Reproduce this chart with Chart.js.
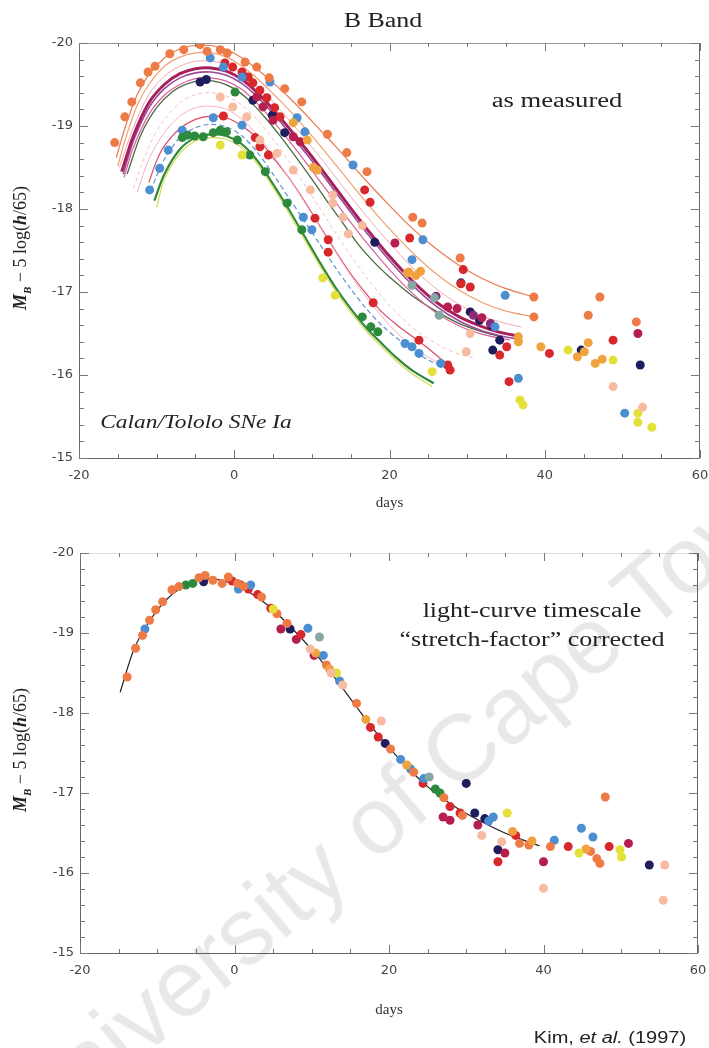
<!DOCTYPE html>
<html>
<head>
<meta charset="utf-8">
<script src="https://cdn.jsdelivr.net/npm/chart.js@4.4.1/dist/chart.umd.min.js"></script>
<style>
html,body{margin:0;padding:0;background:#fff;}
#wrap{position:relative;width:709px;height:1048px;overflow:hidden;background:#fff;}
canvas{position:absolute;left:0;}
#c1{top:0;}
#c2{top:520px;}
.t{position:absolute;white-space:nowrap;color:#222;font-family:"Liberation Serif","Times New Roman",serif;line-height:1;}
.wm{position:absolute;white-space:nowrap;font-family:"Liberation Sans",Arial,sans-serif;font-size:95px;color:rgba(0,0,0,0.09);line-height:1;pointer-events:none;}
</style>
</head>
<body>
<div id="wrap">
<canvas id="c1" width="709" height="520"></canvas>
<canvas id="c2" width="709" height="528"></canvas>

<div class="t" style="left:383px;top:20px;font-size:20px;transform:translate(-50%,-50%) scaleX(1.3);">B Band</div>
<div class="t" style="left:557px;top:100px;font-size:20px;transform:translate(-50%,-50%) scaleX(1.33);">as measured</div>
<div class="t" style="left:196px;top:422px;font-size:18px;font-style:italic;transform:translate(-50%,-50%) scaleX(1.3);">Calan/Tololo SNe Ia</div>
<div class="t" style="left:532px;top:610px;font-size:20px;transform:translate(-50%,-50%) scaleX(1.3);">light-curve timescale</div>
<div class="t" style="left:532px;top:639px;font-size:20px;transform:translate(-50%,-50%) scaleX(1.3);">“stretch-factor” corrected</div>
<div class="t" style="left:610px;top:1038px;font-size:16px;font-family:'Liberation Sans',Arial,sans-serif;transform:translate(-50%,-50%) scaleX(1.25);">Kim, <i>et al.</i> (1997)</div>
<div class="t" style="left:22px;top:248px;font-size:18px;transform:translate(-50%,-50%) rotate(-90deg);"><b><i>M</i></b><sub style="font-size:11px"><b><i>B</i></b></sub> − 5 log(<b><i>h</i></b>/65)</div>
<div class="t" style="left:22px;top:750px;font-size:18px;transform:translate(-50%,-50%) rotate(-90deg);"><b><i>M</i></b><sub style="font-size:11px"><b><i>B</i></b></sub> − 5 log(<b><i>h</i></b>/65)</div>
<div class="wm" style="left:405px;top:795px;transform:translate(-50%,-50%) rotate(-40deg);">University of Cape Town</div>
</div>

<script>
// ---- top panel: measured points [day, mag] ----
const topOrange = [[-15.4,-18.8],[-14.1,-19.11],[-13.2,-19.29],[-12.1,-19.52],[-11.1,-19.65],[-10.2,-19.72],[-8.3,-19.87],[-6.5,-19.92],[-4.4,-19.98],[-3.5,-19.9],[-1.8,-19.92],[-0.9,-19.88],[1.4,-19.77],[2.9,-19.71],[4.5,-19.58],[6.5,-19.45],[8.7,-19.29],[12,-18.9],[14.5,-18.68],[17.1,-18.45],[23,-17.9],[24.2,-17.83],[29.1,-17.41],[38.6,-16.94],[38.6,-16.7],[47.1,-16.94],[45.6,-16.72],[51.8,-16.64]];
const topGold = [[7.6,-19.04],[9.4,-18.83],[10.2,-18.5],[10.7,-18.47],[22.5,-17.24],[23.4,-17.2],[24,-17.25],[22.3,-17.23],[36.6,-16.46],[36.6,-16.4],[39.5,-16.34],[44.2,-16.22],[45.1,-16.28],[45.6,-16.39],[46.5,-16.14],[47.4,-16.19]];
const topRed = [[-1.2,-19.76],[-0.2,-19.71],[1,-19.65],[1.8,-19.59],[2.4,-19.52],[3.3,-19.43],[4.2,-19.34],[5.2,-19.22],[5.9,-19.11],[16.8,-18.23],[17.5,-18.08],[22.6,-17.65],[29.2,-17.1],[29.5,-17.27],[30.4,-17.06],[-1.4,-19.12],[2.7,-18.86],[3.3,-18.75],[4.4,-18.65],[10.4,-17.89],[12.1,-17.63],[12.1,-17.48],[17.9,-16.87],[23.8,-16.42],[27.5,-16.12],[27.8,-16.06],[34.2,-16.24],[35.1,-16.34],[35.4,-15.92],[40.6,-16.26],[48.8,-16.42]];
const topCrimson = [[2.9,-19.35],[3.7,-19.23],[5,-19.07],[7.6,-18.87],[8.5,-18.81],[20.7,-17.59],[27.5,-16.82],[28.7,-16.8],[31.9,-16.69],[52,-16.5]];
const topNavy = [[-4.4,-19.53],[-3.6,-19.56],[2.4,-19.31],[4.9,-19.13],[6.5,-18.92],[18.1,-17.6],[29.2,-17.11],[30.4,-16.76],[31.6,-16.66],[33.1,-16.6],[33.3,-16.3],[34.2,-16.42],[44.7,-16.3],[52.3,-16.12]];
const topBlue = [[-3.1,-19.82],[-1.4,-19.71],[1,-19.59],[4.6,-19.53],[8.1,-19.1],[9.1,-18.93],[15.3,-18.53],[24.3,-17.63],[22.9,-17.39],[34.9,-16.96],[33.6,-16.58],[36.6,-15.96],[50.3,-15.54],[-10.9,-18.23],[-9.6,-18.49],[-8.5,-18.71],[-6.7,-18.95],[-2.7,-19.1],[1,-19.01],[8.9,-17.9],[10,-17.75],[22,-16.38],[22.9,-16.34],[23.8,-16.26],[26.6,-16.14]];
const topGreen = [[-6.7,-18.86],[-6,-18.89],[-5.1,-18.88],[-4,-18.87],[-2.7,-18.92],[-1.8,-18.95],[-1,-18.93],[0.4,-18.83],[2,-18.65],[4,-18.45],[6.8,-18.07],[8.7,-17.75],[16.5,-16.7],[17.6,-16.58],[18.5,-16.52],[0.1,-19.41]];
const topYellow = [[-1.8,-18.77],[1,-18.65],[11.4,-17.17],[13,-16.96],[25.5,-16.04],[36.8,-15.7],[37.2,-15.64],[43,-16.3],[48.8,-16.18],[52,-15.54],[52,-15.43],[53.8,-15.37]];
const topPeach = [[-1.8,-19.35],[-0.2,-19.23],[1.6,-19.11],[3.3,-18.83],[5.5,-18.67],[7.6,-18.47],[9.8,-18.23],[12.7,-18.17],[12.7,-18.07],[14,-17.9],[14.7,-17.7],[16.5,-17.8],[30.4,-16.5],[29.9,-16.28],[48.8,-15.86],[52.6,-15.61]];
const topTeal = [[22.9,-17.08],[26.4,-16.72],[25.8,-16.93]];
const topPurple = [[26,-16.95],[30.8,-16.72],[33,-16.62]];

// ---- top panel: fitted light curves [day, mag] ----
const curveOrange = [[-15.2,-18.62],[-14,-19.0],[-12.5,-19.38],[-11,-19.62],[-9,-19.82],[-7,-19.93],[-5,-19.97],[-3,-19.97],[-1,-19.92],[1,-19.82],[3,-19.68],[5,-19.52],[7,-19.35],[9,-19.16],[11,-18.96],[13,-18.76],[15,-18.55],[17,-18.34],[20,-18.04],[23,-17.76],[26,-17.52],[29,-17.32],[32,-17.16],[35,-17.04],[38.6,-16.94]];
const curveLightOrange = [[-15,-18.52],[-14,-18.85],[-12.5,-19.25],[-11,-19.5],[-9,-19.72],[-7,-19.83],[-5,-19.88],[-3,-19.88],[-1,-19.83],[1,-19.72],[3,-19.57],[5,-19.39],[7,-19.2],[9,-18.99],[11,-18.77],[13,-18.54],[15,-18.31],[17,-18.08],[20,-17.76],[23,-17.47],[26,-17.22],[29,-17.02],[32,-16.87],[35,-16.77],[38.6,-16.7]];
const curvePinkUpper = [[-14.8,-18.5],[-13,-18.98],[-11,-19.38],[-9,-19.6],[-7,-19.72],[-5,-19.78],[-3,-19.78],[-1,-19.74],[1,-19.64],[3,-19.48],[5,-19.29],[7,-19.08],[9,-18.86],[11,-18.63],[13,-18.39],[15,-18.15],[17,-17.92],[20,-17.59],[23,-17.29],[26,-17.04],[29,-16.85],[32,-16.71],[35,-16.62],[37,-16.58]];
const curveCrimson = [[-14.5,-18.45],[-13,-18.88],[-11,-19.28],[-9,-19.5],[-7,-19.63],[-5,-19.69],[-3,-19.7],[-1,-19.66],[1,-19.56],[3,-19.4],[5,-19.2],[7,-18.98],[9,-18.75],[11,-18.51],[13,-18.26],[15,-18.01],[17,-17.77],[20,-17.43],[23,-17.13],[26,-16.88],[29,-16.7],[32,-16.58],[34,-16.52],[36.5,-16.47]];
const curvePurple = [[-14.3,-18.42],[-13,-18.82],[-11,-19.22],[-9,-19.45],[-7,-19.58],[-5,-19.64],[-3,-19.65],[-1,-19.61],[1,-19.51],[3,-19.35],[5,-19.15],[7,-18.93],[9,-18.7],[11,-18.46],[13,-18.21],[15,-17.96],[17,-17.72],[20,-17.38],[23,-17.08],[26,-16.83],[29,-16.65],[32,-16.53],[34,-16.48],[36.5,-16.43]];
const curveMagenta = [[-14.2,-18.38],[-13,-18.74],[-11,-19.14],[-9,-19.37],[-7,-19.5],[-5,-19.57],[-3,-19.58],[-1,-19.54],[1,-19.44],[3,-19.27],[5,-19.06],[7,-18.83],[9,-18.59],[11,-18.34],[13,-18.09],[15,-17.84],[17,-17.6],[20,-17.27],[23,-16.98],[26,-16.75],[29,-16.59],[32,-16.49],[35.5,-16.42]];
const curveOlive = [[-13.8,-18.42],[-12,-18.9],[-10,-19.22],[-8,-19.41],[-6,-19.51],[-4,-19.55],[-2,-19.53],[0,-19.45],[2,-19.3],[4,-19.1],[6,-18.87],[8,-18.62],[10,-18.36],[12,-18.09],[14,-17.83],[16,-17.57],[18,-17.36],[20,-17.18],[23,-16.95],[26,-16.77],[29,-16.62],[32,-16.52],[34.5,-16.46]];
const curvePink1 = [[-13,-18.25],[-11,-18.75],[-9,-19.08],[-7,-19.28],[-5,-19.38],[-3,-19.4],[-1,-19.36],[1,-19.25],[3,-19.07],[5,-18.84],[7,-18.58],[9,-18.3],[11,-18.01],[13,-17.72],[15,-17.44],[17,-17.18],[20,-16.84],[23,-16.57],[26,-16.38],[29,-16.25],[31,-16.2]];
const curvePink2 = [[-12.5,-18.2],[-11,-18.6],[-9,-18.92],[-7,-19.12],[-5,-19.22],[-3,-19.24],[-1,-19.2],[1,-19.08],[3,-18.89],[5,-18.65],[7,-18.38],[9,-18.09],[11,-17.79],[13,-17.49],[15,-17.2],[17,-16.94],[20,-16.6],[23,-16.34],[26,-16.16],[28.5,-16.06]];
const curveRed = [[-11,-18.32],[-10,-18.58],[-9,-18.76],[-7,-18.97],[-5,-19.08],[-3,-19.12],[-1,-19.1],[1,-19.0],[3,-18.85],[5,-18.62],[7,-18.38],[9,-18.1],[11,-17.8],[13,-17.5],[15,-17.22],[17,-16.98],[19,-16.76],[21,-16.6],[23,-16.46],[25,-16.32],[27.8,-16.1]];
const curveBlue = [[-10.8,-18.22],[-9,-18.6],[-7,-18.86],[-5,-18.98],[-3,-19.02],[-1,-18.99],[1,-18.88],[3,-18.68],[5,-18.42],[7,-18.14],[9,-17.86],[11,-17.58],[13,-17.3],[15,-17.04],[17,-16.8],[19,-16.6],[21,-16.44],[23,-16.3],[25,-16.18],[27.3,-16.08]];
const curveGreen = [[-10.3,-18.1],[-9,-18.42],[-7,-18.72],[-5,-18.86],[-3,-18.9],[-1,-18.88],[1,-18.78],[3,-18.58],[5,-18.3],[7,-18.0],[9,-17.68],[11,-17.36],[13,-17.06],[15,-16.8],[17,-16.57],[19,-16.38],[21,-16.2],[23,-16.05],[25.7,-15.9]];
const curveYellow = [[-10,-18.02],[-9,-18.36],[-7,-18.67],[-5,-18.82],[-3,-18.86],[-1,-18.84],[1,-18.74],[3,-18.54],[5,-18.26],[7,-17.96],[9,-17.64],[11,-17.32],[13,-17.02],[15,-16.76],[17,-16.53],[19,-16.34],[21,-16.16],[23,-16.01],[25.5,-15.86]];

// ---- bottom panel: stretch-corrected points [day, mag] ----
const botOrange = [[-13.9,-18.45],[-12.8,-18.81],[-11.9,-18.97],[-11,-19.16],[-10.2,-19.29],[-9.3,-19.39],[-8.1,-19.54],[-7.2,-19.58],[-4.6,-19.69],[-3.8,-19.72],[-2.8,-19.66],[-1.6,-19.62],[-0.8,-19.7],[0.4,-19.62],[1.2,-19.58],[3.5,-19.45],[5.5,-19.24],[6.8,-19.12],[11.9,-18.6],[15.8,-18.12],[20.2,-17.55],[23.2,-17.26],[27.1,-16.94],[29.5,-16.72],[36.9,-16.37],[38.1,-16.35],[40.9,-16.33],[46.1,-16.27],[46.9,-16.18],[47.3,-16.12],[48,-16.95]];
const botRed = [[-0.3,-19.65],[0.8,-19.6],[1.8,-19.55],[3,-19.48],[4.7,-19.31],[8.6,-18.98],[17.6,-17.82],[18.6,-17.7],[24.4,-17.12],[27.9,-16.83],[29.2,-16.75],[34.1,-16.14],[36.4,-16.47],[43.2,-16.33],[48.5,-16.33]];
const botCrimson = [[6,-19.05],[8,-18.92],[10.3,-18.72],[27,-16.7],[27.9,-16.66],[31.5,-16.6],[35,-16.25],[40,-16.14],[51,-16.37]];
const botNavy = [[-4,-19.64],[7.2,-19.05],[19.5,-17.62],[30,-17.12],[31.1,-16.75],[32.4,-16.68],[34.1,-16.29],[53.7,-16.1]];
const botBlue = [[-11.6,-19.05],[0.5,-19.55],[2.1,-19.6],[9.5,-19.06],[11.5,-18.72],[13.6,-18.4],[21.5,-17.42],[22.8,-17.3],[24.5,-17.18],[32.9,-16.65],[33.5,-16.7],[41.4,-16.41],[44.9,-16.56],[46.4,-16.45]];
const botGreen = [[-6.3,-19.6],[-5.4,-19.62],[26,-17.05],[26.6,-17.0]];
const botYellow = [[5,-19.3],[13.2,-18.5],[35.3,-16.75],[44.6,-16.25],[49.9,-16.29],[50.1,-16.2]];
const botPeach = [[9.8,-18.8],[14,-18.35],[19,-17.9],[12.5,-18.5],[32,-16.47],[34.6,-16.39],[40,-15.81],[55.7,-16.1],[55.5,-15.66]];
const botGold = [[10.5,-18.75],[12.3,-18.55],[17,-17.92],[22.3,-17.35],[36,-16.52],[38.5,-16.4],[45.5,-16.3]];
const botTeal = [[11,-18.95],[25.2,-17.2]];

// ---- bottom panel: template curve ----
const curveTemplate = [[-14.8,-18.26],[-13,-18.8],[-11,-19.15],[-9,-19.4],[-7,-19.56],[-5,-19.65],[-3,-19.68],[-1,-19.64],[1,-19.56],[3,-19.44],[5,-19.29],[7,-19.1],[9,-18.9],[11,-18.68],[13,-18.44],[15,-18.18],[17,-17.92],[19,-17.68],[21,-17.46],[23,-17.26],[25,-17.08],[27,-16.93],[29,-16.8],[32,-16.64],[35,-16.5],[38,-16.39],[39.5,-16.34]];

const xTicks = [-20, 0, 20, 40, 60];
const yTicks = [-20, -19, -18, -17, -16, -15];

const C = {
  orange:'#ee7a46', gold:'#f0a23e', red:'#d8282c', crimson:'#b51e4e', navy:'#1e1e5e',
  blue:'#4b8fd2', green:'#2c8a3c', yellow:'#e4e03a', peach:'#f7bba2', teal:'#86a8a4', purple:'#8a2a7a'
};

const pts = arr => arr.map(([x, y]) => ({x, y}));

function dots(data, color) {
  return { type:'scatter', data: pts(data), backgroundColor: color, borderWidth: 0,
           pointRadius: 4.5, pointHoverRadius: 4.5, order: 1 };
}
function curve(data, color, width, dash) {
  return { type:'scatter', data: pts(data), showLine: true, borderColor: color,
           borderWidth: width || 1, borderDash: dash || [], pointRadius: 0,
           tension: 0.3, fill: false, order: 2 };
}

// frame with inward ticks on all four sides
const frameTicks = {
  id: 'frameTicks',
  afterDraw(chart, args, opts) {
    const {ctx, chartArea: a, scales: {x, y}} = chart;
    ctx.save();
    ctx.lineWidth = 1;
    ctx.strokeStyle = '#666';
    ctx.beginPath();
    ctx.moveTo(a.left + 0.5, a.top);
    ctx.lineTo(a.left + 0.5, a.bottom + 0.5);
    ctx.lineTo(a.right - 0.5, a.bottom + 0.5);
    ctx.lineTo(a.right - 0.5, a.top);
    ctx.stroke();
    ctx.strokeStyle = opts.topColor || '#bbb';
    ctx.beginPath();
    ctx.moveTo(a.left, a.top + 0.5); ctx.lineTo(a.right, a.top + 0.5);
    ctx.stroke();
    ctx.strokeStyle = '#777';
    ctx.beginPath();
    x.ticks.forEach(t => {
      const px = Math.round(x.getPixelForValue(t.value)) + 0.5;
      const len = xTicks.includes(t.value) ? 8 : 4;
      ctx.moveTo(px, a.bottom); ctx.lineTo(px, a.bottom - len);
      ctx.moveTo(px, a.top); ctx.lineTo(px, a.top + len);
    });
    y.ticks.forEach(t => {
      const py = Math.round(y.getPixelForValue(t.value)) + 0.5;
      const major = Math.abs(t.value - Math.round(t.value)) < 1e-6;
      const len = major ? 9 : 5;
      ctx.moveTo(a.left, py); ctx.lineTo(a.left + len, py);
      ctx.moveTo(a.right, py); ctx.lineTo(a.right - len, py);
    });
    ctx.stroke();
    ctx.restore();
  }
};

function scales(xHeight, yWidth, titlePad) {
  return {
    x: {
      type: 'linear', min: -20, max: 60,
      afterFit(s) { s.height = xHeight; s.paddingLeft = 0; s.paddingRight = 0; },
      grid: { display: false, drawTicks: false }, border: { display: false },
      ticks: { stepSize: 5, autoSkip: false, maxRotation: 0, padding: 10, color: '#444',
               font: { family: 'DejaVu Sans', size: 13 },
               callback: v => xTicks.includes(v) ? String(v) : '' },
      title: { display: true, text: 'days', color: '#333',
               font: { family: 'Liberation Serif', size: 15 }, padding: { top: 0, bottom: titlePad } }
    },
    y: {
      type: 'linear', min: -20, max: -15, reverse: true,
      afterFit(s) { s.width = yWidth; s.paddingTop = 0; s.paddingBottom = 0; },
      grid: { display: false, drawTicks: false }, border: { display: false },
      ticks: { stepSize: 0.2, autoSkip: false, padding: 6, color: '#444',
               font: { family: 'DejaVu Sans', size: 13 },
               callback: v => {
                 const r = Math.round(v);
                 return (Math.abs(v - r) < 1e-6 && yTicks.includes(r)) ? String(r) : '';
               } }
    }
  };
}

const common = {
  responsive: false, animation: false, events: [],
  plugins: { legend: { display: false }, tooltip: { enabled: false } }
};

new Chart(document.getElementById('c1').getContext('2d'), {
  type: 'scatter',
  data: { datasets: [
    dots(topPeach, C.peach), dots(topTeal, C.teal), dots(topYellow, C.yellow), dots(topGold, C.gold),
    dots(topOrange, C.orange), dots(topGreen, C.green), dots(topBlue, C.blue), dots(topRed, C.red),
    dots(topCrimson, C.crimson), dots(topPurple, C.purple), dots(topNavy, C.navy),
    curve(curveOrange, '#ea7a50', 1.2), curve(curveLightOrange, '#f2a070', 1.2),
    curve(curvePinkUpper, '#f0a8b4', 1), curve(curveCrimson, '#a8205a', 3),
    curve(curvePurple, '#9a4a9a', 1.6), curve(curveMagenta, '#d8609a', 1.2),
    curve(curveOlive, '#4a6a40', 1.3), curve(curvePink1, '#f4c0c8', 1, [4, 3]),
    curve(curvePink2, '#f2b2c0', 1), curve(curveRed, '#dc4a66', 1.2),
    curve(curveBlue, '#5a94d0', 1.2, [5, 3]), curve(curveYellow, '#d8d850', 1.2),
    curve(curveGreen, '#2c8a3c', 2.2)
  ] },
  options: Object.assign({}, common, {
    layout: { padding: { top: 43, right: 9, left: 0, bottom: 0 } },
    scales: scales(62, 79, 8),
    plugins: Object.assign({}, common.plugins, { frameTicks: { topColor: '#999' } })
  }),
  plugins: [frameTicks]
});

new Chart(document.getElementById('c2').getContext('2d'), {
  type: 'scatter',
  data: { datasets: [
    dots(botPeach, C.peach), dots(botTeal, C.teal), dots(botYellow, C.yellow), dots(botGold, C.gold),
    dots(botOrange, C.orange), dots(botGreen, C.green), dots(botBlue, C.blue), dots(botRed, C.red),
    dots(botCrimson, C.crimson), dots(botNavy, C.navy),
    curve(curveTemplate, '#222', 1.2)
  ] },
  options: Object.assign({}, common, {
    layout: { padding: { top: 33, right: 11, left: 0, bottom: 0 } },
    scales: scales(95, 80, 29),
    plugins: Object.assign({}, common.plugins, { frameTicks: { topColor: '#ddd' } })
  }),
  plugins: [frameTicks]
});
</script>
</body>
</html>
